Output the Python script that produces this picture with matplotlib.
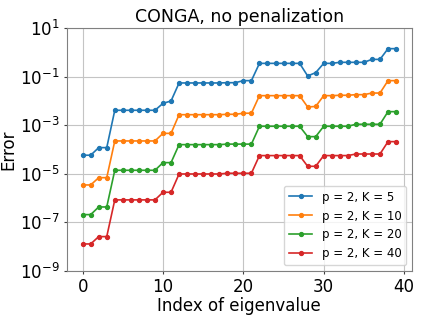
import matplotlib
matplotlib.use("Agg")
import matplotlib.pyplot as plt
import numpy as np

idx = list(range(40))
err_k5 = [5.8e-5, 5.8e-5, 1.19e-4, 1.19e-4] + [4.1e-3]*6 + [7.9e-3, 9.9e-3] + [0.0546]*6 + [0.056, 0.056] + [0.068, 0.068] \
    + [0.35]*6 + [0.106, 0.145] + [0.35, 0.35] + [0.386]*4 + [0.51, 0.51] + [1.41, 1.41]
err_k10 = [3.46e-6, 3.46e-6, 6.9e-6, 6.9e-6] + [2.24e-4]*6 + [4.6e-4, 4.6e-4] + [2.7e-3]*6 + [2.8e-3, 2.8e-3] + [3.1e-3, 3.1e-3] \
    + [0.0164]*6 + [5.6e-3, 5.9e-3] + [0.0164, 0.0164] + [0.017, 0.017, 0.018, 0.018] + [0.021, 0.021] + [0.068, 0.068]
err_k20 = [2.08e-7, 2.08e-7, 4.3e-7, 4.3e-7] + [1.39e-5]*6 + [2.87e-5, 2.87e-5] + [1.58e-4]*6 + [1.66e-4]*4 \
    + [9.0e-4]*6 + [3.37e-4, 3.37e-4] + [9.0e-4]*4 + [1.09e-3]*4 + [3.6e-3, 3.6e-3]
err_k40 = [1.29e-8, 1.29e-8, 2.59e-8, 2.59e-8] + [8.4e-7]*6 + [1.73e-6, 1.73e-6] + [9.8e-6]*6 + [1.05e-5]*4 \
    + [5.6e-5]*6 + [2.03e-5, 2.03e-5] + [5.6e-5]*4 + [6.5e-5]*4 + [2.1e-4, 2.1e-4]

series = [("p = 2, K = 5", err_k5), ("p = 2, K = 10", err_k10),
          ("p = 2, K = 20", err_k20), ("p = 2, K = 40", err_k40)]
colors = ["#1f77b4", "#ff7f0e", "#2ca02c", "#d62728"]

fig = plt.figure(figsize=(4.24, 3.18), dpi=100)
ax = fig.add_axes([0.157, 0.148, 0.815, 0.764])
for (lab, vals), c in zip(series, colors):
    ax.semilogy(idx, vals, marker="o", markersize=2.8, linewidth=1.2, color=c, label=lab)

ax.set_ylim(1e-9, 1e1)
ax.set_yticks([1e-9, 1e-7, 1e-5, 1e-3, 1e-1, 1e1])
ax.minorticks_off()
ax.set_xticks([0, 10, 20, 30, 40])
ax.set_xlim(-2, 41)
ax.grid(True, color="#c4c4c4", linewidth=0.8)
for s in ax.spines.values():
    s.set_color("#808080")
ax.tick_params(labelsize=12, length=2.5, pad=2.5, color="#404040")
ax.set_xlabel("Index of eigenvalue", fontsize=12, labelpad=1)
ax.set_ylabel("Error", fontsize=12, labelpad=2)
ax.set_title("CONGA, no penalization", fontsize=12.5, pad=4)
ax.legend(loc="lower right", fontsize=8.5, handlelength=2)
fig.savefig("out.png", dpi=100)
